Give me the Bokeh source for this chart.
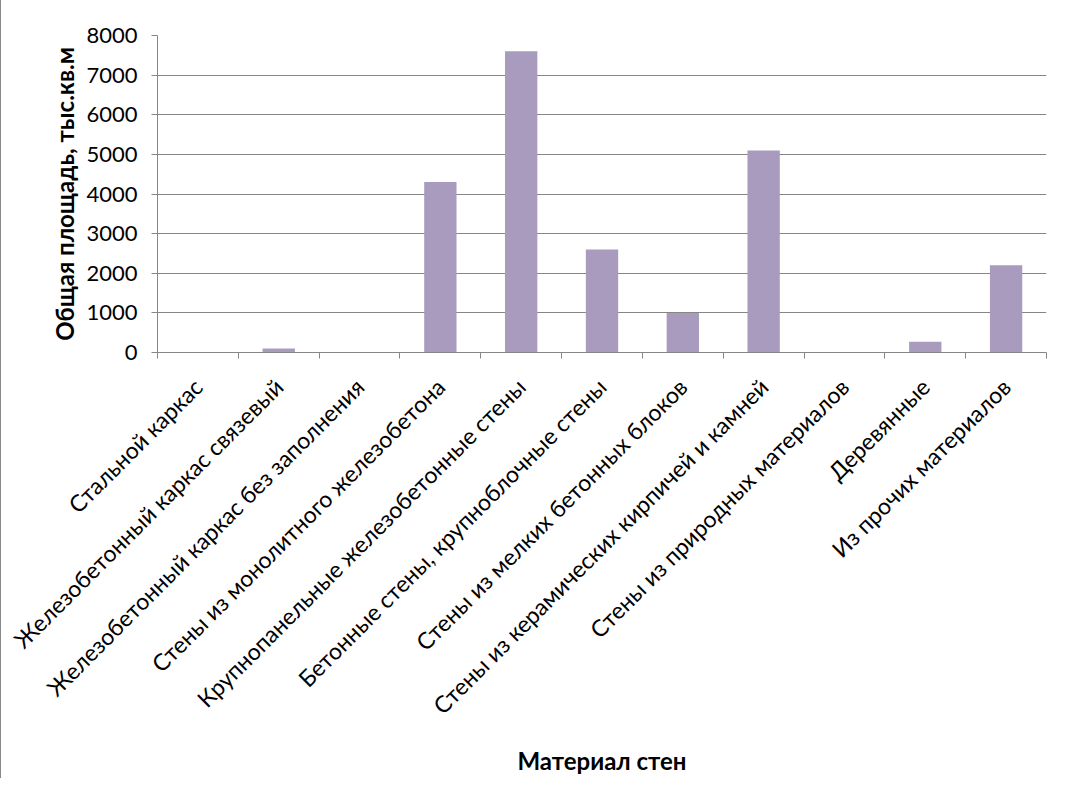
import numpy as np
from bokeh.plotting import figure
from bokeh.models import FixedTicker, ColumnDataSource, Range1d
from bokeh.embed import file_html
from bokeh.resources import INLINE

categories = [
    "Стальной каркас",
    "Железобетонный каркас связевый",
    "Железобетонный каркас без заполнения",
    "Стены из монолитного железобетона",
    "Крупнопанельные железобетонные стены",
    "Бетонные стены, крупноблочные стены",
    "Стены из мелких бетонных блоков",
    "Стены из керамических кирпичей и камней",
    "Стены из природных материалов",
    "Деревянные",
    "Из прочих материалов",
]
values = [0, 100, 0, 4300, 7600, 2600, 1000, 5100, 0, 270, 2200]
y_ticks = [0, 1000, 2000, 3000, 4000, 5000, 6000, 7000, 8000]

n = len(categories)
centers = [i + 0.5 for i in range(n)]
bounds = [float(i) for i in range(n + 1)]

src = ColumnDataSource(dict(x=centers, top=values, name=categories))

p = figure(width=1054, height=778, output_backend="svg", toolbar_location=None,
           x_range=Range1d(0, n), y_range=Range1d(0, 8000),
           min_border_left=156, min_border_right=9, min_border_top=35, min_border_bottom=426)
p.vbar(x="x", top="top", width=0.4, source=src, fill_color="#A99BBD", line_color=None)

font = "Lato"
gray = "#868686"

p.xaxis.ticker = FixedTicker(ticks=centers, minor_ticks=bounds)
p.xaxis.major_label_overrides = {c: lab for c, lab in zip(centers, categories)}
p.xaxis.major_tick_line_color = None
p.xaxis.minor_tick_line_color = gray
p.xaxis.minor_tick_in = 0
p.xaxis.minor_tick_out = 6
p.xaxis.major_label_orientation = np.pi / 4
p.xaxis.major_label_text_font = font
p.xaxis.major_label_text_font_size = "23px"
p.xaxis.major_label_text_color = "#000000"
p.xaxis.major_label_standoff = 24
p.xaxis.axis_line_color = gray
p.xaxis.axis_label = "Материал стен"
p.xaxis.axis_label_text_font = font
p.xaxis.axis_label_text_font_style = "bold"
p.xaxis.axis_label_text_font_size = "24px"
p.xaxis.axis_label_text_color = "#000000"
p.xaxis.axis_label_standoff = 14

p.yaxis.ticker = FixedTicker(ticks=y_ticks)
p.yaxis.major_label_text_font = font
p.yaxis.major_label_text_font_size = "22px"
p.yaxis.major_label_text_color = "#000000"
p.yaxis.major_label_standoff = 14
p.yaxis.major_tick_in = 0
p.yaxis.major_tick_out = 6
p.yaxis.major_tick_line_color = gray
p.yaxis.minor_tick_line_color = None
p.yaxis.axis_line_color = gray
p.yaxis.axis_label = "Общая площадь, тыс.кв.м"
p.yaxis.axis_label_text_font = font
p.yaxis.axis_label_text_font_style = "bold"
p.yaxis.axis_label_text_font_size = "24px"
p.yaxis.axis_label_text_color = "#000000"
p.yaxis.axis_label_standoff = 4

p.xgrid.grid_line_color = None
p.ygrid.grid_line_color = gray
p.outline_line_color = None
p.styles = {"border-left": "1px solid #888888"}

open("out.html", "w").write(file_html(p, INLINE))
